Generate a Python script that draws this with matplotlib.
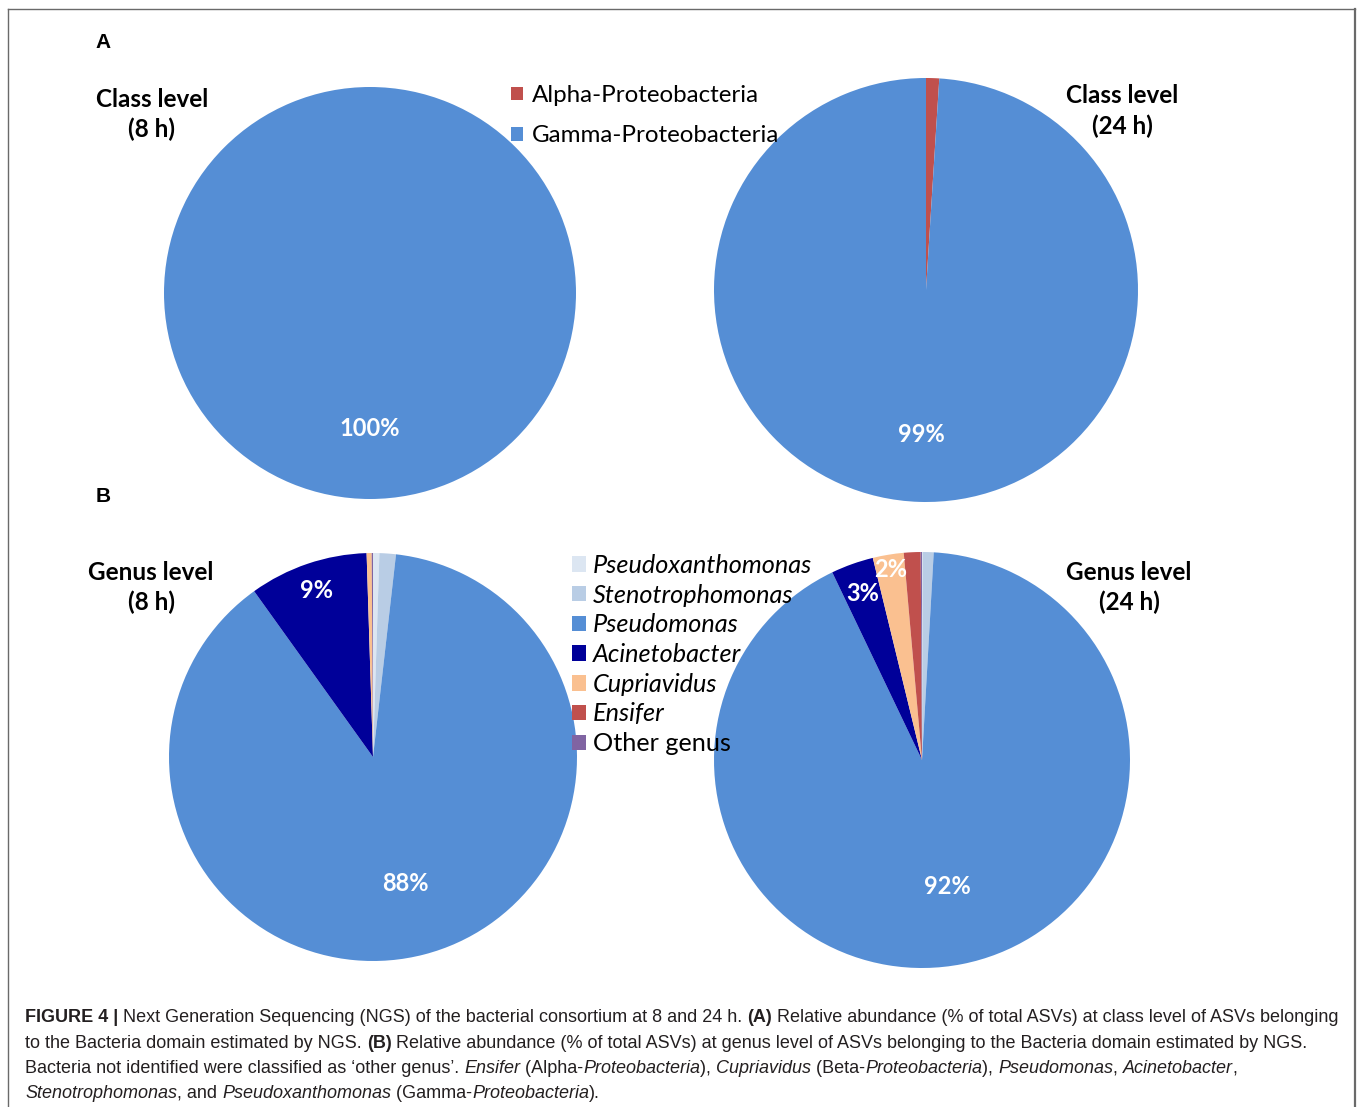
import matplotlib
matplotlib.use("Agg")
import matplotlib.pyplot as plt
from matplotlib.lines import Line2D
from matplotlib.font_manager import FontProperties
import numpy as np

# --- data -------------------------------------------------------------
class_names = ["Alpha-Proteobacteria", "Gamma-Proteobacteria"]
class_8h = [0.0, 100.0]
class_24h = [1.0, 99.0]

genus_names = ["Pseudoxanthomonas", "Stenotrophomonas", "Pseudomonas",
               "Acinetobacter", "Cupriavidus", "Ensifer", "Other genus"]
genus_8h = [0.5, 1.3, 88.3, 9.4, 0.4, 0.0, 0.1]
genus_24h = [0.05, 0.85, 92.0, 3.3, 2.4, 1.3, 0.1]

class_colors = ["#C0504D", "#558ED5"]
genus_colors = ["#DCE6F2", "#B9CDE5", "#558ED5", "#000099",
                "#FAC090", "#C0504D", "#8064A2"]

W, H = 1360, 1107
fig = plt.figure(figsize=(W / 100, H / 100), dpi=100)
fig.patch.set_facecolor("white")

LABEL_FONT = ["Lato", "DejaVu Sans"]


def fx(px):
    return px / W


def fy(py):
    return 1 - py / H


def pie_axes(cx, cy, r):
    return fig.add_axes([fx(cx - r), fy(cy + r), 2 * r / W, 2 * r / H])


def draw_pie(cx, cy, r, values, colors, label_r):
    ax = pie_axes(cx, cy, r)
    wedges, _ = ax.pie(values, colors=colors, startangle=90, counterclock=False,
                       wedgeprops=dict(linewidth=0))
    total = float(np.sum(values))
    for w, v in zip(wedges, values):
        w.set_clip_on(False)
        pct = 100 * v / total
        if round(pct) < 2:
            continue
        mid = np.deg2rad((w.theta1 + w.theta2) / 2)
        d = label_r(pct)
        ax.text(d * np.cos(mid), d * np.sin(mid), f"{pct:.0f}%",
                ha="center", va="center", color="white", fontsize=17,
                fontweight="bold", family=LABEL_FONT)
    ax.set_xlim(-1, 1)
    ax.set_ylim(-1, 1)
    ax.set_aspect("equal")
    ax.axis("off")
    return wedges


# class level (A)
draw_pie(370, 293, 206, class_8h, class_colors, lambda p: 0.66)
cls_w = draw_pie(926, 290, 212, class_24h, class_colors, lambda p: 0.68)

# genus level (B)
draw_pie(373, 757, 204, genus_8h, genus_colors, lambda p: 0.64 if p > 50 else 0.86)
gen_w = draw_pie(922, 760, 208, genus_24h, genus_colors,
                 lambda p: 0.62 if p > 50 else (0.85 if p > 2.5 else 0.93))

# legends
leg_a = fig.legend(cls_w, class_names, loc="upper left",
                   bbox_to_anchor=(fx(511), fy(85)), frameon=False,
                   prop=FontProperties(family=LABEL_FONT, size=17.4),
                   handlelength=0.5, handleheight=0.5, handletextpad=0.35,
                   labelspacing=0.8, borderpad=0, borderaxespad=0)

leg_b = fig.legend(gen_w, genus_names, loc="upper left",
                   bbox_to_anchor=(fx(572), fy(554)), frameon=False,
                   prop=FontProperties(family=LABEL_FONT, size=18.2),
                   handlelength=0.56, handleheight=0.56, handletextpad=0.28,
                   labelspacing=0.265, borderpad=0, borderaxespad=0)
for t in leg_b.get_texts():
    if t.get_text() != "Other genus":
        t.set_fontstyle("italic")

# pie titles
title_kw = dict(ha="center", va="center", fontsize=17.5, fontweight="bold",
                family=LABEL_FONT, linespacing=1.38)
fig.text(fx(152), fy(114.5), "Class level\n(8 h)", **title_kw)
fig.text(fx(1122), fy(111), "Class level\n(24 h)", **title_kw)
fig.text(fx(151), fy(587.5), "Genus level\n(8 h)", **title_kw)
fig.text(fx(1129), fy(587.5), "Genus level\n(24 h)", **title_kw)

# panel letters
for letter, y in [("A", 43), ("B", 497)]:
    fig.text(fx(103), fy(y), letter, ha="center", va="center", fontsize=15,
             fontweight="bold", family="Liberation Sans")

# frame around the figure
frame_kw = dict(transform=fig.transFigure, color="#6a6a6a")
fig.add_artist(Line2D([fx(8), fx(8)], [fy(9), 0], lw=1.0, **frame_kw))
fig.add_artist(Line2D([fx(8), fx(1355)], [fy(9), fy(9)], lw=1.0, **frame_kw))
fig.add_artist(Line2D([fx(1355), fx(1355)], [fy(9), 0], lw=1.6, **frame_kw))

# caption, drawn as runs of mixed weight / style
caption = [
    [("FIGURE 4 | ", "bold"),
     ("Next Generation Sequencing (NGS) of the bacterial consortium at 8 and 24 h. ", ""),
     ("(A)", "bold"),
     (" Relative abundance (% of total ASVs) at class level of ASVs belonging", "")],
    [("to the Bacteria domain estimated by NGS. ", ""),
     ("(B)", "bold"),
     (" Relative abundance (% of total ASVs) at genus level of ASVs belonging to the Bacteria domain estimated by NGS.", "")],
    [("Bacteria not identified were classified as \u2018other genus\u2019. ", ""),
     ("Ensifer", "italic"), (" (Alpha-", ""), ("Proteobacteria", "italic"), ("), ", ""),
     ("Cupriavidus", "italic"), (" (Beta-", ""), ("Proteobacteria", "italic"), ("), ", ""),
     ("Pseudomonas", "italic"), (", ", ""), ("Acinetobacter", "italic"), (",", "")],
    [("Stenotrophomonas", "italic"), (", and ", ""), ("Pseudoxanthomonas", "italic"),
     (" (Gamma-", ""), ("Proteobacteria", "italic"), (").", "")],
]
baselines = [1022, 1047.5, 1073, 1098]

renderer = fig.canvas.get_renderer()


def run_props(style):
    return FontProperties(family="Liberation Sans", size=12.95,
                          weight="bold" if style == "bold" else "normal",
                          style="italic" if style == "italic" else "normal")


def advance(s, fp):
    w_full = renderer.get_text_width_height_descent("X" + s + "X", fp, False)[0]
    w_base = renderer.get_text_width_height_descent("XX", fp, False)[0]
    return w_full - w_base


for line, yb in zip(caption, baselines):
    x = 25.0
    for s, style in line:
        fp = run_props(style)
        fig.text(fx(x), fy(yb), s, fontproperties=fp, color="#231F20",
                 ha="left", va="baseline")
        x += advance(s, fp)

fig.savefig("out.png", dpi=100, facecolor="white")
